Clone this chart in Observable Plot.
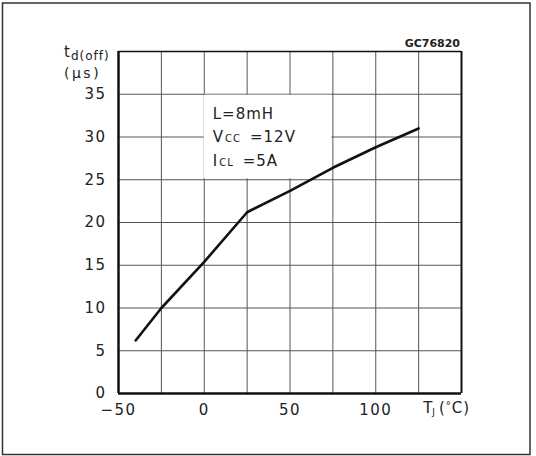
<!DOCTYPE html>
<html><head><meta charset="utf-8">
<script src="https://cdn.jsdelivr.net/npm/d3@7"></script>
<script src="https://cdn.jsdelivr.net/npm/@observablehq/plot@0.6"></script>
<style>
body{margin:0;background:#fff;}
svg{display:block}
svg g[aria-label$="tick label"] text{letter-spacing:1.5px}
</style></head><body><div id="chart"></div>
<script>
// Junction temperature (°C) vs turn-off delay time td(off) (µs)
const tempC = [-40, -25, 0, 25, 50, 75, 100, 125];
const tdOff = [6.2, 10.0, 15.4, 21.2, 23.7, 26.4, 28.8, 31.0];
const xGrid = [-50, -25, 0, 25, 50, 75, 100, 125, 150];
const yGrid = [0, 5, 10, 15, 20, 25, 30, 35, 40];
const xTickLabels = [-50, 0, 50, 100];
const yTickLabels = [0, 5, 10, 15, 20, 25, 30, 35];
const conditionMain = ["L", "V", "I"];
const conditionSub = ["", "CC", "CL"];
const conditionValue = ["=8mH", "=12V", "=5A"];
const figureCode = "GC76820";
// extent of the grid cells covered by the conditions legend box
const boxCells = [{x1: 0, x2: 75, y1: 25, y2: 35}];

const data = tempC.map((t, i) => ({t, td: tdOff[i]}));

const plot = Plot.plot({
  width: 536, height: 456,
  marginLeft: 118, marginRight: 75, marginTop: 51, marginBottom: 63,
  x: {domain: [-50, 150], axis: null},
  y: {domain: [0, 40], axis: null},
  style: {fontFamily: "'DejaVu Sans', sans-serif", fontSize: "15px", color: "#222", background: "#fff"},
  marks: [
    Plot.ruleX(xGrid, {stroke: "#555", strokeWidth: 1}),
    Plot.ruleY(yGrid, {stroke: "#555", strokeWidth: 1}),
    Plot.rect(boxCells, {x1: "x1", x2: "x2", y1: "y1", y2: "y2", fill: "#fff", stroke: "none",
      insetLeft: 0, insetRight: 1, insetTop: 1, insetBottom: 1}),
    Plot.ruleX([-50], {stroke: "#111", strokeWidth: 2.5}),
    Plot.ruleX([150], {stroke: "#111", strokeWidth: 2}),
    Plot.ruleY([0], {stroke: "#111", strokeWidth: 2.5}),
    Plot.ruleY([40], {stroke: "#111", strokeWidth: 1.5}),
    Plot.line(data, {x: "t", y: "td", stroke: "#111", strokeWidth: 2.6}),
    Plot.axisX(xTickLabels, {tickSize: 0, tickPadding: 11, label: null, fill: "#222", fontSize: 15}),
    Plot.axisY(yTickLabels, {tickSize: 0, tickPadding: 12, label: null, fill: "#222", fontSize: 15})
  ]
});
document.getElementById("chart").appendChild(plot);

const sx = plot.scale("x"), sy = plot.scale("y");
const svg = d3.select(plot);
const ff = "'DejaVu Sans', sans-serif";

// outer frame
svg.append("rect").attr("x", 2.5).attr("y", 3).attr("width", 527.5).attr("height", 451.5)
  .attr("fill", "none").attr("stroke", "#333").attr("stroke-width", 1.5);

// conditions box text
const bx = sx.apply(0) + 9, by = sy.apply(35) + 25;
conditionMain.forEach((m, i) => {
  const t = svg.append("text").attr("x", bx).attr("y", by + i * 23.5).attr("text-anchor", "start")
    .attr("font-family", ff).attr("font-size", 15).attr("fill", "#222").attr("letter-spacing", 1);
  t.append("tspan").text(m);
  if (conditionSub[i]) {
    t.append("tspan").attr("font-size", 10).attr("dx", 1).text(conditionSub[i]);
    t.append("tspan").attr("dx", 9).text(conditionValue[i]);
  } else {
    t.append("tspan").text(conditionValue[i]);
  }
});

// figure code
svg.append("text").attr("x", sx.apply(150) - 1).attr("y", sy.apply(40) - 4)
  .attr("text-anchor", "end").attr("font-family", ff).attr("font-size", 11)
  .attr("font-weight", "bold").attr("fill", "#222").text(figureCode);

// y label
const yl = svg.append("text").attr("x", sx.apply(-50) - 54).attr("y", sy.apply(40) + 6)
  .attr("text-anchor", "start").attr("font-family", ff).attr("fill", "#222");
yl.append("tspan").attr("font-size", 15).text("t");
yl.append("tspan").attr("font-size", 12).attr("dx", 1).attr("dy", 3).attr("letter-spacing", 1).text("d(off)");
svg.append("text").attr("x", sx.apply(-50) - 54).attr("y", sy.apply(40) + 27).attr("text-anchor", "start")
  .attr("font-family", ff).attr("font-size", 14).attr("letter-spacing", 2.5).attr("fill", "#222").text("(μs)");

// x label
const xl = svg.append("text").attr("x", sx.apply(125) + 5).attr("y", sy.apply(0) + 20)
  .attr("text-anchor", "start").attr("font-family", ff).attr("fill", "#222").attr("font-size", 15);
xl.append("tspan").text("T");
xl.append("tspan").attr("font-size", 9).attr("dy", 2).text("J");
xl.append("tspan").attr("dx", 4).attr("dy", -2).text("(");
xl.append("tspan").attr("font-size", 10).attr("dx", 1).attr("dy", -4).text("°");
xl.append("tspan").attr("dx", 1).attr("dy", 4).text("C");
xl.append("tspan").attr("dx", 1).text(")");
</script></body></html>
